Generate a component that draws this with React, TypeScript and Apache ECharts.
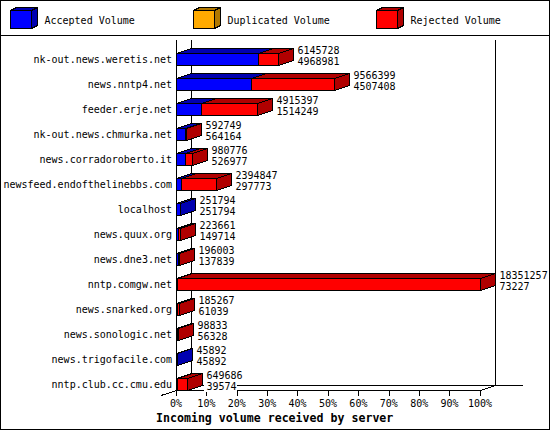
import React, { useEffect, useRef } from "react";
import * as echarts from "echarts";

const servers = [
  "nk-out.news.weretis.net",
  "news.nntp4.net",
  "feeder.erje.net",
  "nk-out.news.chmurka.net",
  "news.corradoroberto.it",
  "newsfeed.endofthelinebbs.com",
  "localhost",
  "news.quux.org",
  "news.dne3.net",
  "nntp.comgw.net",
  "news.snarked.org",
  "news.sonologic.net",
  "news.trigofacile.com",
  "nntp.club.cc.cmu.edu",
];
const totalVolume = [6145728, 9566399, 4915397, 592749, 980776, 2394847, 251794, 223661, 196003, 18351257, 185267, 98833, 45892, 649686];
const acceptedVolume = [4968981, 4507408, 1514249, 564164, 526977, 297773, 251794, 149714, 137839, 73227, 61039, 56328, 45892, 39574];
const legendNames = ["Accepted Volume", "Duplicated Volume", "Rejected Volume"];
const axisTitle = "Incoming volume received by server";

const MONO = '"DejaVu Sans Mono", "Liberation Mono", monospace';
const BLUE = "#0000ff", BLUE_D = "#0000b0";
const RED = "#ff0000", RED_D = "#b00000";
const ORANGE = "#ffaa00", ORANGE_D = "#b07800";
const DX = 15, DY = 5;

const maxVolume = Math.max(...totalVolume);
const pct = (v: number) => (v / maxVolume) * 100;
const snap = (v: number) => Math.round(v) + 0.5;

function box(x0: number, x1: number, top: number, bottom: number, front: string, dark: string) {
  const line = { stroke: "#000", lineWidth: 1 };
  return [
    { type: "polygon", shape: { points: [[x0, top], [x0 + DX, top - DY], [x1 + DX, top - DY], [x1, top]] }, style: { fill: dark, ...line } },
    { type: "polygon", shape: { points: [[x1, top], [x1 + DX, top - DY], [x1 + DX, bottom - DY], [x1, bottom]] }, style: { fill: dark, ...line } },
    { type: "rect", shape: { x: x0, y: top, width: x1 - x0, height: bottom - top }, style: { fill: front, ...line } },
  ];
}

function barRenderer(front: string, dark: string, withLabels: boolean) {
  return (_p: any, api: any) => {
    const idx = api.value(0);
    const from = api.value(1);
    const to = api.value(2);
    const [xa, yc] = api.coord([from, idx]);
    const [xb] = api.coord([to, idx]);
    const band = api.size([0, 1])[1];
    const bottom = snap(yc + band / 2);
    const top = bottom - 12;
    const children: any[] = [];
    if (to > from) children.push(...box(snap(xa), snap(xb), top, bottom, front, dark));
    if (withLabels) {
      const tx = snap(xb) + 19;
      const font = `10px ${MONO}`;
      children.push(
        { type: "text", style: { text: String(api.value(3)), x: tx, y: bottom - 15, font, fill: "#000", verticalAlign: "middle", align: "left" } },
        { type: "text", style: { text: String(api.value(4)), x: tx - 3, y: bottom - 4, font, fill: "#000", verticalAlign: "middle", align: "left", backgroundColor: "#fff", padding: [0, 0, 0, 3] } },
      );
    }
    return { type: "group", children };
  };
}

function swatch(x: number, front: string, dark: string) {
  const l = x, r = x + 21, t = 10.5, b = 28.5, dx = 6, dy = 3;
  const line = { stroke: "#000", lineWidth: 1 };
  return [
    { type: "polygon", shape: { points: [[l, t], [l + dx, t - dy], [r + dx, t - dy], [r, t]] }, style: { fill: dark, ...line } },
    { type: "polygon", shape: { points: [[r, t], [r + dx, t - dy], [r + dx, b - dy], [r, b]] }, style: { fill: dark, ...line } },
    { type: "rect", shape: { x: l, y: t, width: r - l, height: b - t }, style: { fill: front, ...line } },
  ];
}

function hline(x1: number, y1: number, x2: number, y2: number) {
  return { type: "line", z: 0, shape: { x1, y1, x2, y2 }, style: { stroke: "#000", lineWidth: 1 } };
}

export default function App() {
  const ref = useRef<HTMLDivElement>(null);
  useEffect(() => {
    const chart = echarts.init(ref.current!, null, { renderer: "svg" });
    const labelStyle = { fontFamily: MONO, fontSize: 10, color: "#000" };
    chart.setOption({
      animation: false,
      backgroundColor: "#fff",
      title: {
        text: axisTitle,
        left: 156,
        top: 411,
        padding: 0,
        textStyle: { fontFamily: MONO, fontSize: 11.6, fontWeight: "bold", color: "#000", lineHeight: 13 },
      },
      grid: { left: 176, top: 40, width: 304, height: 350, containLabel: false },
      xAxis: {
        type: "value",
        min: 0,
        max: 100,
        interval: 10,
        axisLine: { show: true, onZero: false, lineStyle: { color: "#000", width: 1 } },
        axisTick: { show: true, length: 6, lineStyle: { color: "#000", width: 1 } },
        splitLine: { show: false },
        axisLabel: { ...labelStyle, margin: 8, formatter: "{value}%", hideOverlap: false },
      },
      yAxis: {
        type: "category",
        inverse: true,
        data: servers,
        axisLine: { show: true, lineStyle: { color: "#000", width: 1 } },
        axisTick: { show: false },
        splitLine: { show: false },
        axisLabel: { ...labelStyle, margin: 4, verticalAlign: "top", lineHeight: 14, interval: 0 },
      },
      graphic: [
        { type: "rect", z: 0, shape: { x: 0.5, y: 0.5, width: 549, height: 429 }, style: { fill: "none", stroke: "#000", lineWidth: 1 } },
        hline(0, 35.5, 550, 35.5),
        hline(191.5, 40, 191.5, 385.5),
        hline(495.5, 40, 495.5, 385.5),
        hline(191.5, 385.5, 523, 385.5),
        hline(161, 395.5, 176.5, 390.5),
        hline(480.5, 390.5, 495.5, 385.5),
        ...swatch(10.5, BLUE, BLUE_D),
        ...swatch(193.5, ORANGE, ORANGE_D),
        ...swatch(376.5, RED, RED_D),
        ...[44.5, 227.5, 410.5].map((x, i) => ({
          type: "text",
          x,
          y: 20.5,
          style: { text: legendNames[i], font: `10px ${MONO}`, fill: "#000", verticalAlign: "middle" },
        })),
      ],
      series: [
        {
          type: "custom",
          name: legendNames[0],
          z: 3,
          clip: false,
          coordinateSystem: "cartesian2d",
          encode: { x: [1, 2], y: 0 },
          renderItem: barRenderer(BLUE, BLUE_D, false),
          data: servers.map((_, i) => [i, 0, pct(acceptedVolume[i])]),
        },
        {
          type: "custom",
          name: legendNames[2],
          z: 4,
          clip: false,
          coordinateSystem: "cartesian2d",
          encode: { x: [1, 2], y: 0 },
          renderItem: barRenderer(RED, RED_D, true),
          data: servers.map((_, i) => [i, pct(acceptedVolume[i]), pct(totalVolume[i]), totalVolume[i], acceptedVolume[i]]),
        },
      ],
    });
    return () => chart.dispose();
  }, []);
  return (
    <>
      <style>{`html,body{margin:0;background:#fff} svg path,svg line,svg rect,svg polygon{shape-rendering:crispEdges}`}</style>
      <div ref={ref} style={{ position: "absolute", left: 0, top: 0, width: 550, height: 430 }} />
    </>
  );
}
